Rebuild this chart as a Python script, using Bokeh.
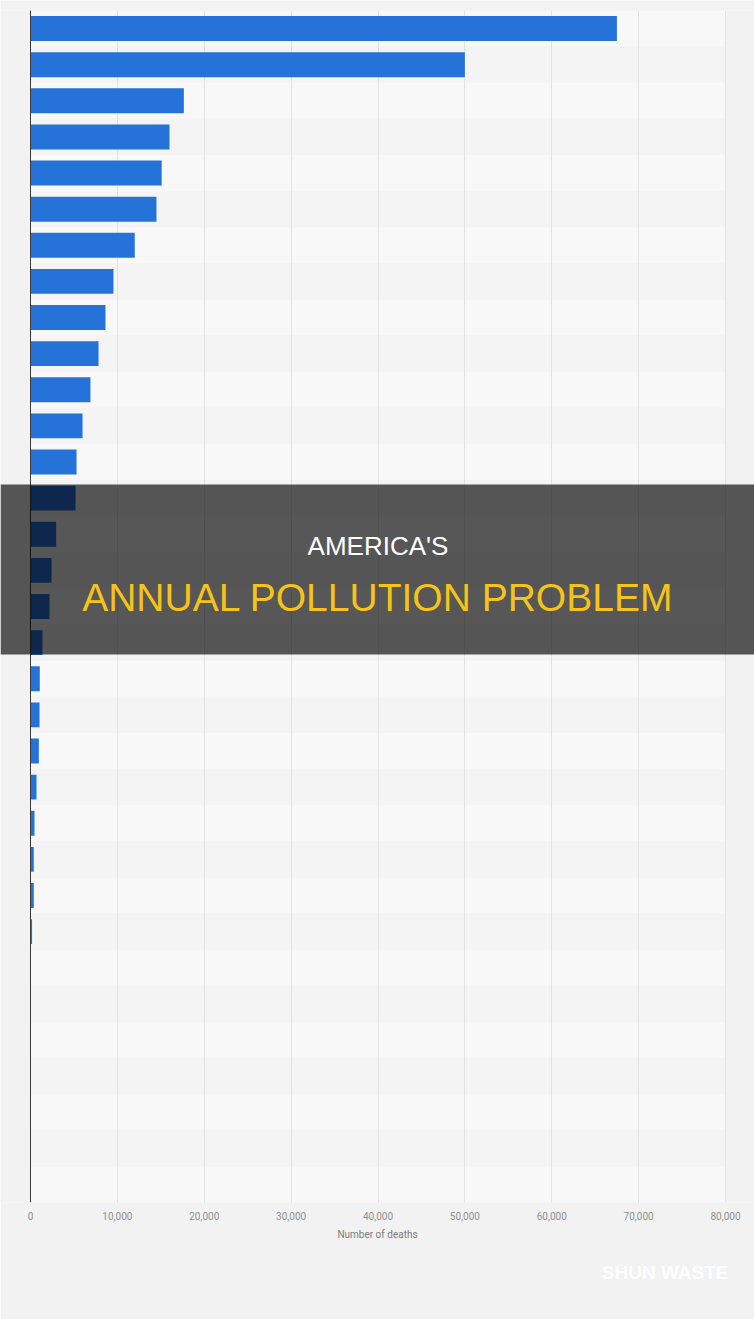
from bokeh.plotting import figure
from bokeh.models import Range1d, FixedTicker, NumeralTickFormatter, BoxAnnotation, Label, Span, Title
from bokeh.embed import file_html
from bokeh.resources import INLINE

# ---- data ----
ranks = list(range(1, 34))
deaths = [67500, 50000, 17650, 16000, 15100, 14500, 12000, 9550, 8630, 7830,
          6900, 5990, 5300, 5180, 2950, 2420, 2190, 1380, 1070, 1040,
          960, 690, 460, 380, 380, 180, 0, 0, 0, 0, 0, 0, 0]
x_ticks = [0, 10000, 20000, 30000, 40000, 50000, 60000, 70000, 80000]
x_label = "Number of deaths"
title_line1 = "AMERICA'S"
title_line2 = "ANNUAL POLLUTION PROBLEM"
watermark = "SHUN WASTE"

# ---- layout constants ----
W, H = 754, 1319
LEFT_PX, RIGHT_PX = 30, 725
TOP_PX, BOTTOM_PX = 10, 1202
X_MAX = 80000
ppu = (RIGHT_PX - LEFT_PX) / X_MAX
x_start = -LEFT_PX / ppu
x_end = X_MAX + (W - RIGHT_PX) / ppu
n = len(ranks)
row_px = (BOTTOM_PX - TOP_PX) / n


def ypos(px):
    return 0.5 + (px - TOP_PX) / row_px


BG = "#f2f2f2"
p = figure(width=W, height=H,
           x_range=Range1d(x_start, x_end), y_range=Range1d(n + 0.5, 0.5),
           y_axis_location=None,
           min_border_left=0, min_border_right=0,
           min_border_top=TOP_PX, min_border_bottom=H - BOTTOM_PX,
           output_backend="svg", toolbar_location=None,
           background_fill_color=BG, border_fill_color=BG)
p.outline_line_color = None

# stripes
stripe_colors = ["#f8f8f8" if i % 2 == 0 else "#f4f4f4" for i in range(n)]
p.hbar(y=ranks, left=0, right=X_MAX, height=1, fill_color=stripe_colors,
       line_color=None, level="image")

# grid
p.ygrid.visible = False
p.xgrid.ticker = FixedTicker(ticks=x_ticks)
p.xgrid.grid_line_color = "#e2e2e2"
p.xgrid.grid_line_width = 1

# bars
p.hbar(y=ranks, left=0, right=deaths, height=0.69, fill_color="#2573d9",
       line_color=None)

# left axis line
p.add_layout(Span(location=0, dimension="height", line_color="#3a3a3a", line_width=1))

# x axis
ax = p.xaxis[0]
ax.ticker = FixedTicker(ticks=x_ticks)
ax.formatter = NumeralTickFormatter(format="0,0")
ax.axis_line_color = None
ax.major_tick_line_color = None
ax.minor_tick_line_color = None
ax.major_tick_out = 0
ax.major_tick_in = 0
ax.major_label_standoff = 9
ax.major_label_text_font = "Roboto"
ax.major_label_text_font_size = "10px"
ax.major_label_text_color = "#8e8e8e"
ax.axis_label = x_label
ax.axis_label_text_font = "Roboto"
ax.axis_label_text_font_size = "10px"
ax.axis_label_text_font_style = "normal"
ax.axis_label_text_color = "#7a7a7a"
ax.axis_label_standoff = 6

# banner overlay
p.add_layout(BoxAnnotation(top=ypos(484), bottom=ypos(654), fill_color="black",
                           fill_alpha=0.65, line_color=None, level="overlay"))
p.add_layout(Label(x=X_MAX / 2, y=ypos(545), text=title_line1, text_align="center",
                   text_baseline="alphabetic", text_color="white",
                   text_font="Liberation Sans", text_font_size="26px", level="overlay"))
p.add_layout(Label(x=X_MAX / 2, y=ypos(597), text=title_line2, text_align="center",
                   text_baseline="alphabetic", text_color="#f6c319",
                   text_font="Liberation Sans", text_font_size="39px", level="overlay"))

# watermark (in the border area below the axis)
p.add_layout(Title(text=watermark, align="right", offset=26, standoff=34,
                   text_color="white", text_alpha=0.95,
                   text_font="Liberation Sans", text_font_style="bold",
                   text_font_size="19px"), "below")

open("out.html", "w").write(file_html(p, INLINE))
